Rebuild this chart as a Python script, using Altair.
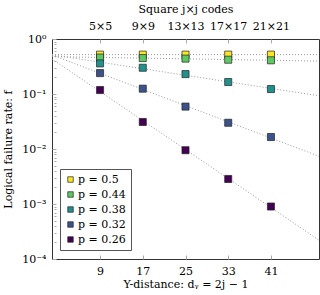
import altair as alt
import pandas as pd

# Y-distance d_y = 2j - 1 for square j x j codes
distances = [9, 17, 25, 33, 41]

# Logical failure rate per physical error rate p
p_labels = ["p = 0.5", "p = 0.44", "p = 0.38", "p = 0.32", "p = 0.26"]
f_p050 = [0.52, 0.52, 0.52, 0.52, 0.52]
f_p044 = [0.46, 0.45, 0.44, 0.42, 0.41]
f_p038 = [0.36, 0.30, 0.23, 0.165, 0.123]
f_p032 = [0.24, 0.125, 0.059, 0.030, 0.0165]
f_p026 = [0.118, 0.031, 0.0095, 0.00285, 0.00090]
colors = ["#fde725", "#5ec962", "#21918c", "#3b528b", "#440154"]

series = [f_p050, f_p044, f_p038, f_p032, f_p026]
rows = []
for label, vals in zip(p_labels, series):
    for d, f in zip(distances, vals):
        rows.append({"d": d, "f": f, "p": label})
df = pd.DataFrame(rows)

FONT = "DejaVu Serif"
minor_ticks = [m * 10 ** e for e in range(-4, 0) for m in range(1, 10)] + [1]

x_scale = alt.Scale(domain=[0, 50], nice=False, zero=False)
y_scale = alt.Scale(type="log", domain=[1e-4, 1], nice=False)
color_scale = alt.Scale(domain=p_labels, range=colors)

is_major = "abs(log(datum.value)/LN10 - round(log(datum.value)/LN10)) < 1e-6"
y_label = (
    f"({is_major}) ? ('10' + (round(log(datum.value)/LN10) == 0 ? '⁰' : "
    "'⁻' + ['⁰','¹','²','³','⁴'][-round(log(datum.value)/LN10)])) : ''"
)

x_bottom = alt.X(
    "d:Q",
    scale=x_scale,
    axis=alt.Axis(
        orient="bottom",
        values=distances,
        title="Y-distance: dᵧ = 2j − 1",
        offset=-4,
        tickSize=4,
        tickColor="#aaaaaa",
        domain=False,
        grid=False,
        labelPadding=6,
        titlePadding=2,
    ),
)
y_axis = alt.Y(
    "f:Q",
    scale=y_scale,
    axis=alt.Axis(
        values=minor_ticks,
        labelExpr=y_label,
        labelOverlap=False,
        title="Logical failure rate: f",
        offset=-4,
        tickSize={"condition": {"test": is_major, "value": 4}, "value": 2},
        tickColor="#aaaaaa",
        domain=False,
        grid=False,
        labelPadding=6,
        titlePadding=8,
    ),
)

# Dotted exponential fits: linear regression of log10(f) against d
fits = (
    alt.Chart(df)
    .transform_calculate(logf="log(datum.f)/LN10")
    .transform_regression("d", "logf", groupby=["p"], extent=[0, 50])
    .transform_calculate(f="pow(10, datum.logf)")
    .mark_line(color="#999999", strokeDash=[1, 2], strokeWidth=1, clip=True)
    .encode(x=x_bottom, y=y_axis, detail="p:N")
)

points = (
    alt.Chart(df)
    .mark_point(shape="square", filled=True, size=50, stroke="#222222", strokeWidth=0.7, opacity=1)
    .encode(
        x=alt.X("d:Q", scale=x_scale, axis=None),
        y=y_axis,
        fill=alt.Fill(
            "p:N",
            scale=color_scale,
            legend=alt.Legend(
                title=None,
                orient="none",
                legendX=8,
                legendY=130,
                symbolType="square",
                symbolSize=30,
                symbolStrokeColor="#222222",
                symbolStrokeWidth=0.7,
                labelFont=FONT,
                labelFontSize=11,
                labelColor="#000000",
                rowPadding=3,
                padding=5,
                strokeColor="#555555",
                fillColor="#ffffff",
                labelOffset=2,
            ),
        ),
    )
)

# Top axis: code sizes j x j for the same distances
top_axis = (
    alt.Chart(pd.DataFrame({"d": distances}))
    .mark_point(opacity=0)
    .encode(
        x=alt.X(
            "d:Q",
            scale=x_scale,
            axis=alt.Axis(
                orient="top",
                values=distances,
                labelExpr="((datum.value+1)/2) + '×' + ((datum.value+1)/2)",
                title="Square j×j codes",
                offset=-4,
                tickSize=4,
                tickColor="#aaaaaa",
                domain=False,
                grid=False,
                labelPadding=8,
                titlePadding=6,
            ),
        )
    )
)

chart = (
    alt.layer(fits, points, top_axis)
    .resolve_axis(x="independent")
    .properties(
        width=267,
        height=220,
        autosize=alt.AutoSizeParams(type="none"),
        padding={"left": 52, "top": 39, "right": 1, "bottom": 36},
        background="white",
    )
    .configure_view(stroke="#333333", strokeWidth=1)
    .configure_axis(
        labelFont=FONT,
        titleFont=FONT,
        labelFontSize=11,
        titleFontSize=11,
        titleFontWeight="normal",
        labelColor="#000000",
        titleColor="#000000",
    )
)

chart.save("out.html", embed_options={"renderer": "svg", "actions": False})
